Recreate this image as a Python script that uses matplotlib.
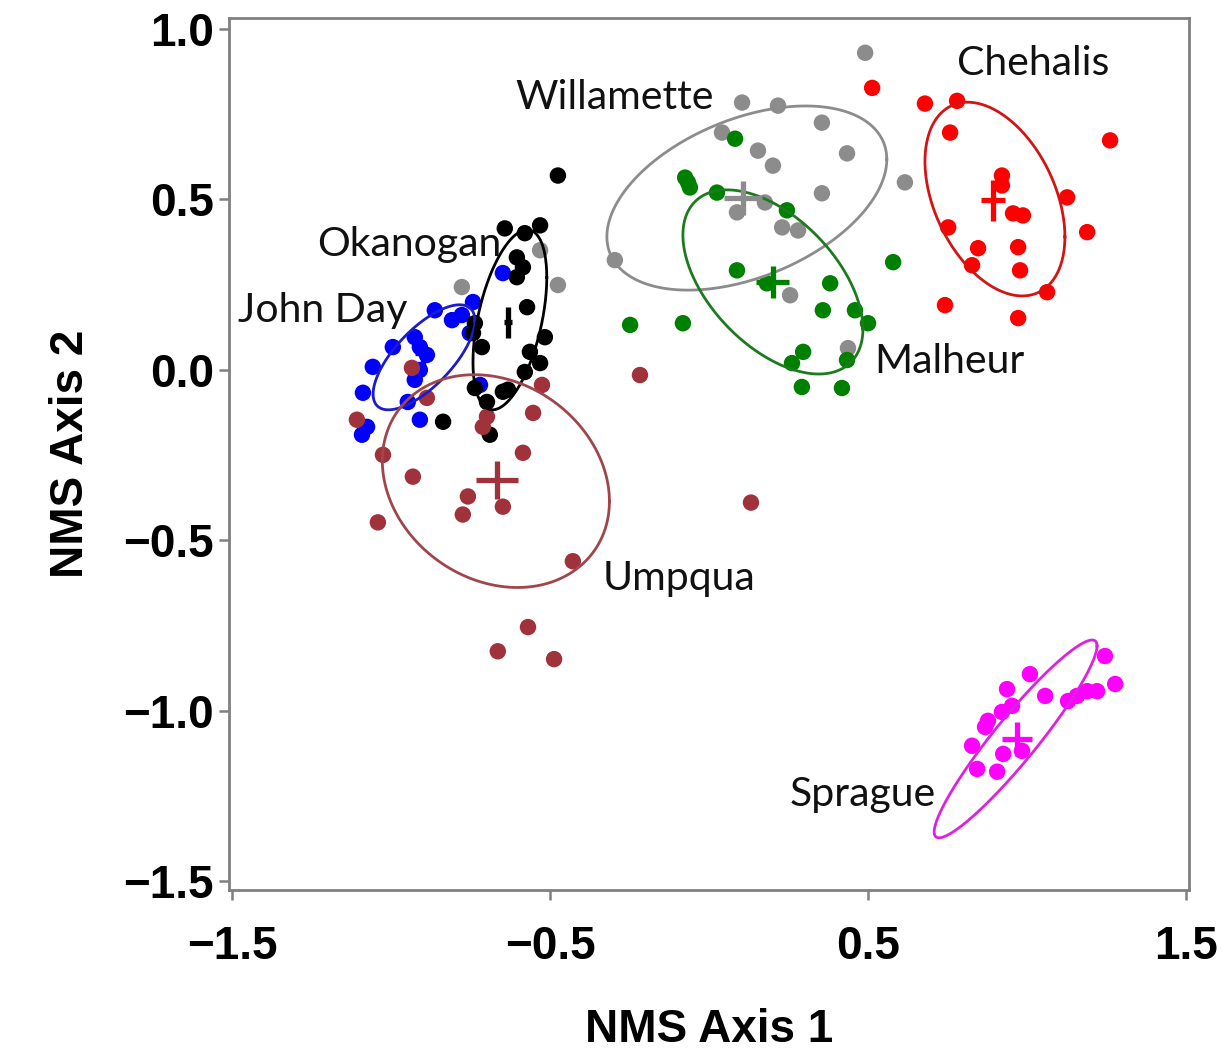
import numpy as np
import matplotlib.pyplot as plt

# NMS ordination scores per basin
john_day_x = [-0.648, -0.742, -0.777, -0.808, -0.862, -0.925, -0.909, -0.994, -1.057, -0.909,
              -0.925, -1.088, -0.947, -0.909, -1.075, -1.091, -0.720, -0.887, -0.752]
john_day_y = [0.284, 0.199, 0.161, 0.146, 0.175, 0.096, 0.067, 0.067, 0.009, 0.000,
              -0.029, -0.067, -0.094, -0.146, -0.167, -0.190, -0.044, 0.044, 0.108]

okanogan_x = [-0.475, -0.642, -0.579, -0.531, -0.604, -0.585, -0.604, -0.572, -0.736, -0.742,
              -0.714, -0.516, -0.563, -0.531, -0.579, -0.632, -0.736, -0.698, -0.689, -0.836, -0.648]
okanogan_y = [0.570, 0.415, 0.401, 0.424, 0.330, 0.301, 0.272, 0.184, 0.137, 0.108,
              0.067, 0.096, 0.053, 0.020, -0.006, -0.058, -0.053, -0.094, -0.190, -0.152, -0.064]

willamette_x = [0.491, 0.104, 0.217, 0.355, 0.041, 0.154, 0.201, 0.434, 0.355, 0.616,
                0.176, 0.088, 0.230, 0.280, 0.255, 0.437, -0.296, -0.531, -0.475, -0.777]
willamette_y = [0.930, 0.784, 0.775, 0.725, 0.696, 0.643, 0.599, 0.635, 0.518, 0.550,
                0.491, 0.462, 0.418, 0.409, 0.219, 0.064, 0.322, 0.351, 0.249, 0.243]

malheur_x = [0.082, -0.075, -0.060, 0.025, 0.245, 0.088, 0.182, 0.381, 0.579, 0.358,
             0.459, 0.500, -0.248, -0.082, 0.296, 0.261, 0.434, 0.292, 0.418, -0.066]
malheur_y = [0.678, 0.564, 0.535, 0.520, 0.468, 0.292, 0.254, 0.254, 0.316, 0.175,
             0.175, 0.137, 0.132, 0.137, 0.053, 0.020, 0.029, -0.050, -0.053, 0.550]

umpqua_x = [-0.934, -0.887, -1.107, -1.025, -0.931, -1.041, -0.758, -0.774, -0.648, -0.585,
            -0.553, -0.525, -0.698, -0.711, -0.217, -0.428, -0.569, -0.664, -0.487, 0.132]
umpqua_y = [0.006, -0.082, -0.146, -0.249, -0.313, -0.447, -0.371, -0.424, -0.401, -0.243,
            -0.126, -0.044, -0.137, -0.167, -0.015, -0.561, -0.754, -0.825, -0.848, -0.389]

chehalis_x = [0.513, 0.679, 0.780, 0.758, 1.261, 0.921, 0.921, 1.126, 0.956, 0.987,
              0.752, 1.189, 0.846, 0.972, 0.827, 0.978, 1.063, 0.742, 0.972]
chehalis_y = [0.827, 0.781, 0.789, 0.696, 0.673, 0.570, 0.541, 0.506, 0.459, 0.453,
              0.418, 0.404, 0.357, 0.360, 0.307, 0.292, 0.228, 0.190, 0.152]

sprague_x = [1.245, 1.277, 1.220, 1.189, 1.157, 1.129, 1.057, 1.009, 0.937, 0.953,
             0.921, 0.877, 0.868, 0.827, 0.925, 0.984, 0.843, 0.906]
sprague_y = [-0.839, -0.921, -0.942, -0.942, -0.956, -0.971, -0.956, -0.892, -0.936, -0.985,
             -1.003, -1.029, -1.047, -1.102, -1.126, -1.117, -1.170, -1.178]

# draw order
basins = ["John Day", "Willamette", "Malheur", "Okanogan", "Umpqua", "Chehalis", "Sprague"]
points = {
    "John Day": (john_day_x, john_day_y),
    "Okanogan": (okanogan_x, okanogan_y),
    "Willamette": (willamette_x, willamette_y),
    "Malheur": (malheur_x, malheur_y),
    "Umpqua": (umpqua_x, umpqua_y),
    "Chehalis": (chehalis_x, chehalis_y),
    "Sprague": (sprague_x, sprague_y),
}
colors = {"John Day": "#0000FF", "Okanogan": "#000000", "Willamette": "#8C8C8C",
          "Malheur": "#008000", "Umpqua": "#A0323C", "Chehalis": "#FF0000", "Sprague": "#FF00FF"}
ell_colors = {"John Day": "#1C1CC8", "Okanogan": "#000000", "Willamette": "#8C8C8C",
              "Malheur": "#1E7A1E", "Umpqua": "#A0464B", "Chehalis": "#D21414", "Sprague": "#E020E0"}

# centroid and its error (x, y, xerr, yerr)
centroids = {
    "John Day": (-0.899, 0.050, 0.025, 0.035),
    "Okanogan": (-0.632, 0.140, 0.013, 0.045),
    "Umpqua": (-0.667, -0.322, 0.066, 0.056),
    "Willamette": (0.107, 0.503, 0.060, 0.050),
    "Malheur": (0.201, 0.257, 0.052, 0.047),
    "Chehalis": (0.893, 0.497, 0.039, 0.061),
    "Sprague": (0.969, -1.082, 0.047, 0.051),
}

# confidence ellipses: centre x, centre y, half width, half height, correlation
ellipses = {
    "John Day": (-0.896, 0.037, 0.160, 0.154, 0.70),
    "Okanogan": (-0.626, 0.147, 0.116, 0.264, 0.47),
    "Umpqua": (-0.670, -0.326, 0.357, 0.312, -0.19),
    "Willamette": (0.119, 0.504, 0.440, 0.270, 0.42),
    "Malheur": (0.201, 0.258, 0.283, 0.270, -0.51),
    "Chehalis": (0.899, 0.501, 0.220, 0.284, -0.39),
    "Sprague": (0.964, -1.082, 0.256, 0.290, 0.94),
}

# label positions (left edge, vertical centre)
labels = {
    "Chehalis": (0.780, 0.900),
    "Willamette": (-0.610, 0.798),
    "Okanogan": (-1.233, 0.367),
    "John Day": (-1.481, 0.173),
    "Malheur": (0.519, 0.026),
    "Umpqua": (-0.333, -0.613),
    "Sprague": (0.255, -1.246),
}

fig = plt.figure(figsize=(12.28, 10.52), dpi=100)
ax = fig.add_axes([0.1865, 0.154, 0.7817, 0.8289])

t = np.linspace(0, 2 * np.pi, 300)
for b in basins:
    x, y = points[b]
    ax.scatter(x, y, s=140, color=colors[b], edgecolors="none", zorder=2)

for b in basins:
    cx, cy, hx, hy, r = ellipses[b]
    S = np.array([[hx**2, r * hx * hy], [r * hx * hy, hy**2]])
    L = np.linalg.cholesky(S)
    e = L @ np.vstack([np.cos(t), np.sin(t)])
    ax.plot(cx + e[0], cy + e[1], color=ell_colors[b], lw=2.0, zorder=3)
    mx, my, ex, ey = centroids[b]
    ax.errorbar(mx, my, xerr=ex, yerr=ey, color=colors[b], elinewidth=3.8,
                capsize=0, fmt="none", zorder=4)

for b, (lx, ly) in labels.items():
    ax.text(lx, ly, b, fontsize=29.5, family="Lato", ha="left", va="center",
            color="#111111", zorder=5)

ax.set_xlim(-1.509, 1.509)
ax.set_ylim(-1.525, 1.032)
ax.set_xticks([-1.5, -0.5, 0.5, 1.5])
ax.set_yticks([-1.5, -1.0, -0.5, 0.0, 0.5, 1.0])
ax.set_xticklabels(["\u22121.5", "\u22120.5", "0.5", "1.5"])
ax.set_yticklabels(["\u22121.5", "\u22121.0", "\u22120.5", "0.0", "0.5", "1.0"])

for s in ax.spines.values():
    s.set_color("#808080")
    s.set_linewidth(2)
ax.tick_params(axis="both", colors="#808080", length=7, width=1.8, labelcolor="black")
ax.tick_params(axis="x", pad=18)
ax.tick_params(axis="y", pad=4)
for lab in ax.get_xticklabels() + ax.get_yticklabels():
    lab.set_family(["Liberation Sans", "DejaVu Sans"])
    lab.set_fontweight("bold")
    lab.set_fontsize(33)

ax.set_xlabel("NMS Axis 1", family="Liberation Sans", fontweight="bold", fontsize=33, labelpad=28)
ax.set_ylabel("NMS Axis 2", family="Liberation Sans", fontweight="bold", fontsize=33, labelpad=22)

plt.savefig("out.png", dpi=100)
